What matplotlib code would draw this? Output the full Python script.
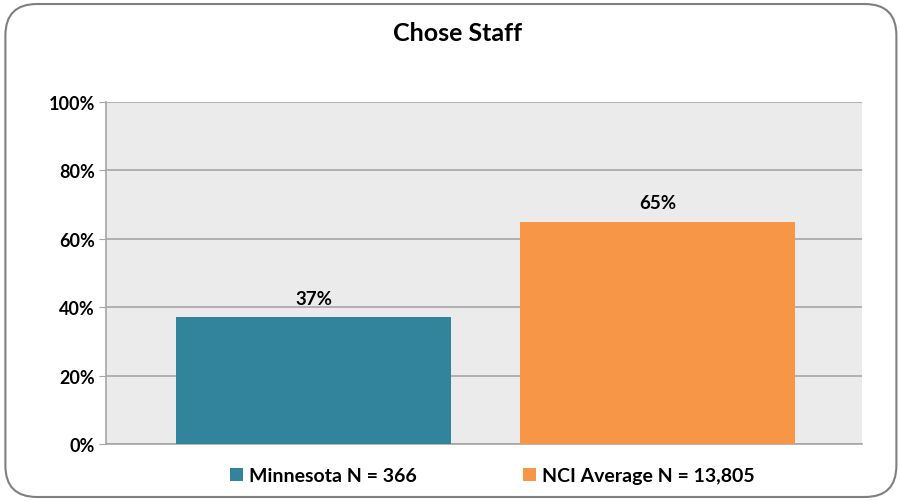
import matplotlib.pyplot as plt
from matplotlib.patches import FancyBboxPatch, Patch

plt.rcParams['font.family'] = ['Lato', 'DejaVu Sans']
plt.rcParams['font.weight'] = 'bold'

labels = ['Minnesota N = 366', 'NCI Average N = 13,805']
values = [37, 65]
colors = ['#31849B', '#F79646']
yticks = [0, 20, 40, 60, 80, 100]

fig = plt.figure(figsize=(9, 5.02), dpi=100)
ax = fig.add_axes([0.118, 0.1135, 0.84, 0.6815])

# rounded chart border
border = FancyBboxPatch((0.006, 0.008), 0.99, 0.982, boxstyle='round,pad=0,rounding_size=0.035',
                        transform=fig.transFigure, facecolor='none', edgecolor='#7f7f7f',
                        linewidth=1.5, mutation_aspect=900 / 502)
fig.patches.append(border)

ax.set_facecolor('#EBEBEB')
x = range(len(values))
bars = ax.bar(x, values, width=0.8, color=colors, zorder=3)
for b, v in zip(bars, values):
    ax.text(b.get_x() + b.get_width() / 2, v + 3, f'{v}%', ha='center', va='bottom',
            fontsize=13.5, fontweight='bold')

ax.set_xlim(-0.603, 1.594)
ax.set_ylim(0, 100)
ax.set_yticks(yticks)
ax.set_yticklabels([f'{t}%' for t in yticks], fontsize=13, fontweight='bold')
ax.set_xticks([])
ax.yaxis.grid(True, color='#a6a6a6', linewidth=1.2, zorder=1)
ax.tick_params(axis='y', length=5, color='#a6a6a6', pad=3)
for s in ['top', 'right']:
    ax.spines[s].set_visible(False)
for s in ['left', 'bottom']:
    ax.spines[s].set_color('#a6a6a6')
    ax.spines[s].set_linewidth(1.2)

fig.text(0.508, 0.933, 'Chose Staff', ha='center', va='center', fontsize=18, fontweight='bold')

handles = [Patch(facecolor=c) for c in colors]
fig.legend(handles, labels, loc='center', bbox_to_anchor=(0.547, 0.05), ncol=2, frameon=False,
           handlelength=0.67, handleheight=0.67, handletextpad=0.3, columnspacing=5.5,
           prop={'weight': 'bold', 'size': 14})

fig.savefig('out.png', dpi=100)
